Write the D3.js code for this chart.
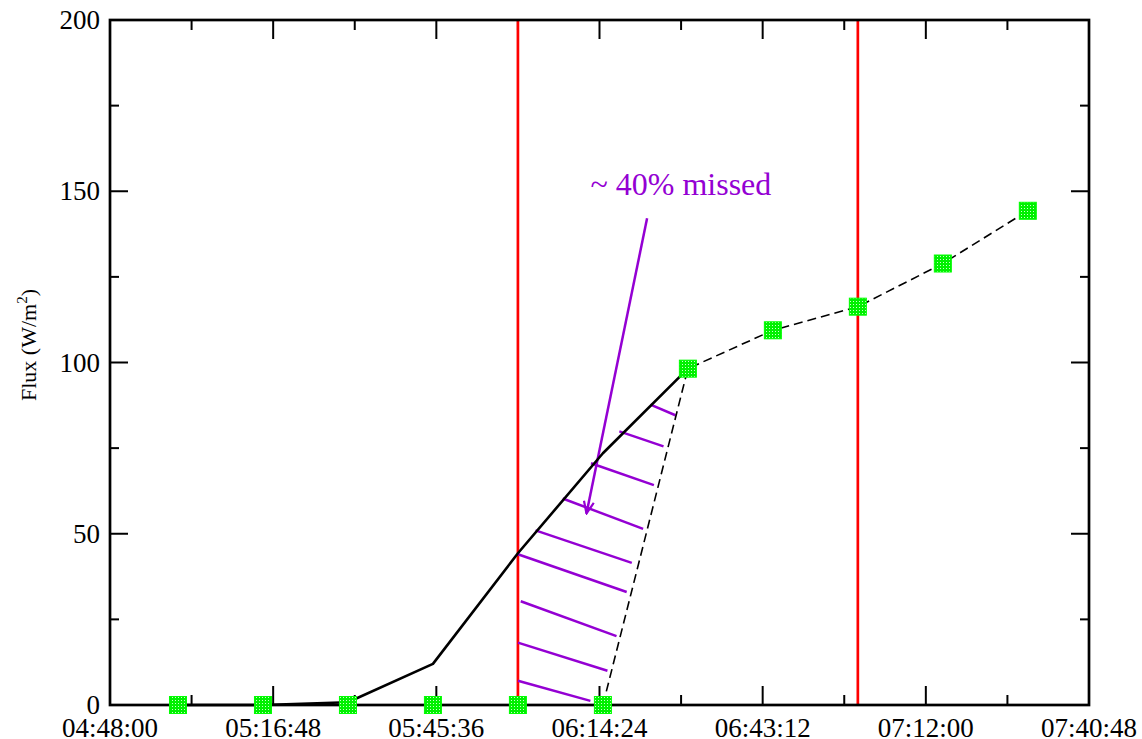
<!DOCTYPE html>
<html>
<head>
  <meta charset="utf-8">
  <style>
    body { margin: 0; background: #fff; font-family: "Liberation Serif", "DejaVu Serif", serif; }
    text { font-family: "Liberation Serif", "DejaVu Serif", serif; }
    .frame { fill: none; stroke: #000; stroke-width: 2.7px; }
    .tick { stroke: #000; stroke-width: 2px; }
    .ticklabel { font-size: 27px; fill: #000; }
    .marker-line { stroke: red; stroke-width: 2.7px; }
    .hatch { stroke: #9400d3; stroke-width: 2.5px; }
    .model { fill: none; stroke: #000; stroke-width: 2.6px; stroke-linejoin: round; }
    .measured { fill: none; stroke: #000; stroke-width: 1.6px; stroke-dasharray: 9,5; }
  </style>
</head>
<body>
  <script src="https://d3js.org/d3.v7.min.js"></script>
  <script>
  // data
  var times = ["05:00:00","05:15:00","05:30:00","05:45:00","06:00:00","06:15:00",
               "06:30:00","06:45:00","07:00:00","07:15:00","07:30:00"]
  var measured = [0, 0, 0, 0, 0, 0, 98.2, 109.4, 116.3, 128.9, 144.3]
  var modelTimes = ["05:00:00","05:15:00","05:30:00","05:45:00","06:00:00","06:15:00","06:30:00"]
  var model = [0, 0, 0.8, 12, 44.3, 73.5, 98.2]
  // dashed line joins the measured points from 06:15 on
  var dashedFrom = 5
  var eclipseMarks = ["06:00:00", "07:00:00"]
  var xTickLabels = ["04:48:00","05:16:48","05:45:36","06:14:24","06:43:12","07:12:00","07:40:48"]
  var yTickLabels = [0, 50, 100, 150, 200]
  // hatch strokes: [start time, start flux, end time, end flux]
  var hatches = [
    ["06:00:00", 7.1, "06:12:48", 1.2],
    ["06:00:00", 18.2, "06:15:48", 10.0],
    ["06:00:30", 30.3, "06:17:24", 20.1],
    ["06:00:00", 44.0, "06:19:12", 33.0],
    ["06:03:06", 51.0, "06:20:06", 41.5],
    ["06:07:54", 60.3, "06:22:06", 51.4],
    ["06:12:54", 70.6, "06:24:00", 64.2],
    ["06:17:54", 79.9, "06:25:42", 75.5],
    ["06:23:24", 87.7, "06:27:48", 84.6]
  ]
  var arrow = ["06:22:48", 142.1, "06:12:06", 55.9]
  var note = {text: "~ 40% missed", time: "06:12:48", flux: 149}

  var width = 1142, height = 739
  var mLeft = 110, mRight = 1089, mTop = 20, mBottom = 705
  var serif = "'Liberation Serif', 'DejaVu Serif', serif"
  var parse = d3.timeParse("%H:%M:%S")

  var x = d3.scaleTime()
    .domain([parse(xTickLabels[0]), parse(xTickLabels[xTickLabels.length - 1])])
    .range([mLeft, mRight])
  var y = d3.scaleLinear()
    .domain([0, 200])
    .range([mBottom, mTop])

  var svg = d3.select("body").append("svg")
    .attr("width", width)
    .attr("height", height)
    .attr("font-family", serif)

  var defs = svg.append("defs")
  var pat = defs.append("pattern")
    .attr("id", "dots")
    .attr("patternUnits", "userSpaceOnUse")
    .attr("width", 3).attr("height", 3)
  pat.append("rect").attr("width", 3).attr("height", 3).attr("fill", "#00f000")
  pat.append("rect").attr("x", 1).attr("y", 1).attr("width", 1).attr("height", 1).attr("fill", "#c8ffc8")

  defs.append("marker")
    .attr("id", "head")
    .attr("markerUnits", "userSpaceOnUse")
    .attr("viewBox", "0 0 14 12")
    .attr("refX", 13).attr("refY", 6)
    .attr("markerWidth", 14).attr("markerHeight", 12)
    .attr("orient", "auto")
    .append("path")
    .attr("d", "M1,1 L13,6 L1,11")
    .attr("fill", "none")
    .attr("stroke", "#9400d3")
    .attr("stroke-width", 2.2)

  // ticks, minor at half steps, on all four sides
  var majors = xTickLabels.map(parse)
  var minors = []
  for (var i = 0; i < majors.length - 1; i++) {
    minors.push(new Date((+majors[i] + +majors[i + 1]) / 2))
  }
  var g = svg.append("g")
  majors.forEach(function(d) {
    g.append("line").attr("class", "tick").attr("x1", x(d)).attr("x2", x(d)).attr("y1", mBottom).attr("y2", mBottom - 19)
    g.append("line").attr("class", "tick").attr("x1", x(d)).attr("x2", x(d)).attr("y1", mTop).attr("y2", mTop + 19)
  })
  minors.forEach(function(d) {
    g.append("line").attr("class", "tick").attr("x1", x(d)).attr("x2", x(d)).attr("y1", mBottom).attr("y2", mBottom - 10)
    g.append("line").attr("class", "tick").attr("x1", x(d)).attr("x2", x(d)).attr("y1", mTop).attr("y2", mTop + 10)
  })
  for (var v = 0; v <= 200; v += 25) {
    var len = v % 50 === 0 ? 18 : 9
    g.append("line").attr("class", "tick").attr("x1", mLeft).attr("x2", mLeft + len).attr("y1", y(v)).attr("y2", y(v))
    g.append("line").attr("class", "tick").attr("x1", mRight).attr("x2", mRight - len).attr("y1", y(v)).attr("y2", y(v))
  }

  // tick labels
  g.selectAll(".xl").data(xTickLabels).enter().append("text")
    .attr("class", "ticklabel")
    .attr("font-family", serif)
    .attr("x", function(d) { return x(parse(d)) })
    .attr("y", mBottom + 32)
    .attr("text-anchor", "middle")
    .text(function(d) { return d })
  g.selectAll(".yl").data(yTickLabels).enter().append("text")
    .attr("class", "ticklabel")
    .attr("font-family", serif)
    .attr("x", mLeft - 10)
    .attr("y", function(d) { return y(d) + 9 })
    .attr("text-anchor", "end")
    .text(function(d) { return d })

  // y label
  var yl = svg.append("text")
    .attr("font-family", serif)
    .attr("transform", "translate(36," + 345 + ") rotate(-90)")
    .attr("text-anchor", "middle")
    .style("font-size", "22px")
  yl.append("tspan").text("Flux (W/m")
  yl.append("tspan").attr("dy", -9).style("font-size", "15px").text("2")
  yl.append("tspan").attr("dy", 9).text(")")

  // red vertical lines
  svg.selectAll(".marker-line").data(eclipseMarks).enter().append("line")
    .attr("class", "marker-line")
    .attr("x1", function(d) { return x(parse(d)) })
    .attr("x2", function(d) { return x(parse(d)) })
    .attr("y1", mTop).attr("y2", mBottom)

  // hatching
  svg.selectAll(".hatch").data(hatches).enter().append("line")
    .attr("class", "hatch")
    .attr("x1", function(d) { return x(parse(d[0])) })
    .attr("y1", function(d) { return y(d[1]) })
    .attr("x2", function(d) { return x(parse(d[2])) })
    .attr("y2", function(d) { return y(d[3]) })

  // arrow and note
  svg.append("line")
    .attr("class", "hatch")
    .attr("x1", x(parse(arrow[0]))).attr("y1", y(arrow[1]))
    .attr("x2", x(parse(arrow[2]))).attr("y2", y(arrow[3]))
    .attr("marker-end", "url(#head)")
  svg.append("text")
    .attr("font-family", serif)
    .attr("x", x(parse(note.time)))
    .attr("y", y(note.flux))
    .style("font-size", "32px")
    .attr("fill", "#9400d3")
    .text(note.text)

  // lines
  var line = d3.line()
    .x(function(d) { return x(parse(d[0])) })
    .y(function(d) { return y(d[1]) })
  svg.append("path")
    .attr("class", "model")
    .attr("d", line(modelTimes.map(function(t, i) { return [t, model[i]] })))
  svg.append("path")
    .attr("class", "measured")
    .attr("d", line(times.map(function(t, i) { return [t, measured[i]] }).slice(dashedFrom)))

  // frame
  svg.append("rect")
    .attr("class", "frame")
    .attr("x", mLeft).attr("y", mTop)
    .attr("width", mRight - mLeft).attr("height", mBottom - mTop)

  // markers
  svg.selectAll(".pt").data(times).enter().append("rect")
    .attr("class", "pt")
    .attr("x", function(d) { return x(parse(d)) - 8.5 })
    .attr("y", function(d, i) { return y(measured[i]) - 8.5 })
    .attr("width", 17).attr("height", 17)
    .attr("fill", "url(#dots)")
    .attr("stroke", "#00ff00")
    .attr("stroke-width", 1)
  </script>
</body>
</html>
